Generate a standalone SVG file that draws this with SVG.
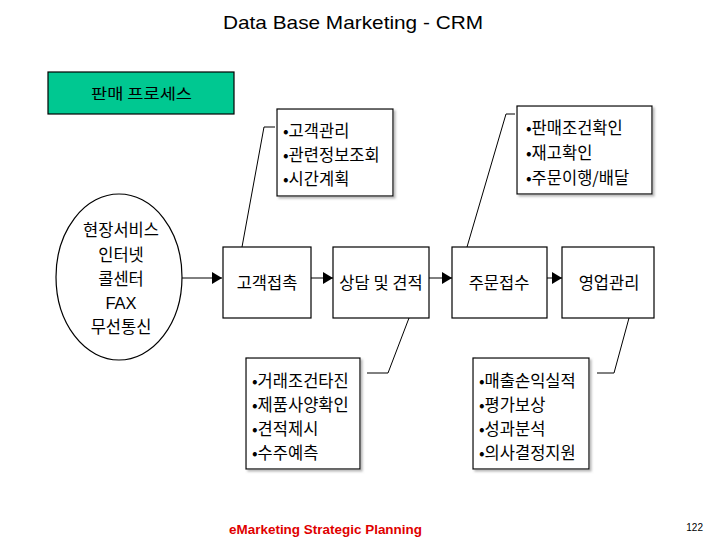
<svg xmlns="http://www.w3.org/2000/svg" width="720" height="540" viewBox="0 0 720 540">
<defs>
<marker id="arr" markerWidth="10" markerHeight="12" refX="10" refY="6" orient="auto" markerUnits="userSpaceOnUse">
<path d="M0,0 L10,6 L0,12 Z" fill="#000"/>
</marker>
<filter id="sh" x="-10%" y="-10%" width="130%" height="130%">
<feDropShadow dx="2" dy="2" stdDeviation="0.8" flood-color="#888" flood-opacity="0.6"/>
</filter>
</defs>
<style>
text{font-family:"Noto Sans CJK KR","Liberation Sans",sans-serif;fill:#000}
.box{fill:#fff;stroke:#000;stroke-width:1.2}
.lbl{font-size:16.5px;text-anchor:middle}
.bul{font-size:16.5px}
.conn{fill:none;stroke:#000;stroke-width:1}
</style>
<rect width="720" height="540" fill="#fff"/>
<text x="223" y="29" textLength="260" lengthAdjust="spacingAndGlyphs" style="font-family:'Liberation Sans',sans-serif;font-size:19px">Data Base Marketing - CRM</text>

<g id="process-label">
<rect x="48" y="72" width="186" height="42" fill="#00C891" stroke="#000" stroke-width="1.2"/>
<text x="91" y="99" textLength="101" lengthAdjust="spacingAndGlyphs" style="font-size:15px">판매 프로세스</text>
</g>

<g id="channels">
<ellipse cx="119" cy="277" rx="63" ry="83" fill="#fff" stroke="#000" stroke-width="1.2"/>
<text x="121" y="236" class="lbl">현장서비스</text>
<text x="121" y="261" class="lbl">인터넷</text>
<text x="121" y="285" class="lbl">콜센터</text>
<text x="121" y="309" class="lbl" style="font-family:'Liberation Sans',sans-serif">FAX</text>
<text x="121" y="333" class="lbl">무선통신</text>
</g>

<g id="contact">
<rect x="223" y="247" width="88" height="71" class="box"/>
<text x="267" y="289" class="lbl">고객접촉</text>
</g>
<g id="consult">
<rect x="333" y="247" width="96" height="71" class="box"/>
<text x="381" y="289" class="lbl">상담 및 견적</text>
</g>
<g id="order">
<rect x="452" y="247" width="95" height="71" class="box"/>
<text x="499" y="289" class="lbl">주문접수</text>
</g>
<g id="sales">
<rect x="562" y="247" width="92" height="71" class="box"/>
<text x="609" y="289" class="lbl">영업관리</text>
</g>

<g id="note-contact">
<rect x="277" y="109" width="116" height="87" class="box" filter="url(#sh)"/>
<text x="283" y="137" class="bul">•고객관리</text>
<text x="283" y="161" class="bul">•관련정보조회</text>
<text x="283" y="185" class="bul">•시간계획</text>
</g>
<g id="note-order">
<rect x="517" y="106" width="135" height="88" class="box" filter="url(#sh)"/>
<text x="526" y="134" class="bul">•판매조건확인</text>
<text x="526" y="159" class="bul">•재고확인</text>
<text x="526" y="184" class="bul">•주문이행/배달</text>
</g>
<g id="note-consult">
<rect x="246" y="358" width="114" height="111" class="box" filter="url(#sh)"/>
<text x="252" y="387" class="bul">•거래조건타진</text>
<text x="252" y="411" class="bul">•제품사양확인</text>
<text x="252" y="435" class="bul">•견적제시</text>
<text x="252" y="459" class="bul">•수주예측</text>
</g>
<g id="note-sales">
<rect x="473" y="358" width="116" height="111" class="box" filter="url(#sh)"/>
<text x="479" y="387" class="bul">•매출손익실적</text>
<text x="479" y="411" class="bul">•평가보상</text>
<text x="479" y="435" class="bul">•성과분석</text>
<text x="479" y="459" class="bul">•의사결정지원</text>
</g>

<g id="connectors">
<line x1="182" y1="278" x2="222" y2="278" class="conn" marker-end="url(#arr)"/>
<line x1="311" y1="278" x2="333" y2="278" class="conn" marker-end="url(#arr)"/>
<line x1="429" y1="278" x2="452" y2="278" class="conn" marker-end="url(#arr)"/>
<line x1="547" y1="278" x2="562" y2="278" class="conn" marker-end="url(#arr)"/>
<polyline points="275,127 264,127 242,247" class="conn"/>
<polyline points="515,114 506,114 467,247" class="conn"/>
<polyline points="367,373 388,373 409,318" class="conn"/>
<polyline points="597,373 614,373 629,318" class="conn"/>
</g>

<text x="229" y="534" textLength="193" lengthAdjust="spacingAndGlyphs" style="font-family:'Liberation Sans',sans-serif;font-size:13px;font-weight:bold;fill:#E00000">eMarketing Strategic Planning</text>
<text x="703" y="531" text-anchor="end" style="font-family:'Liberation Sans',sans-serif;font-size:10px">122</text>
</svg>
